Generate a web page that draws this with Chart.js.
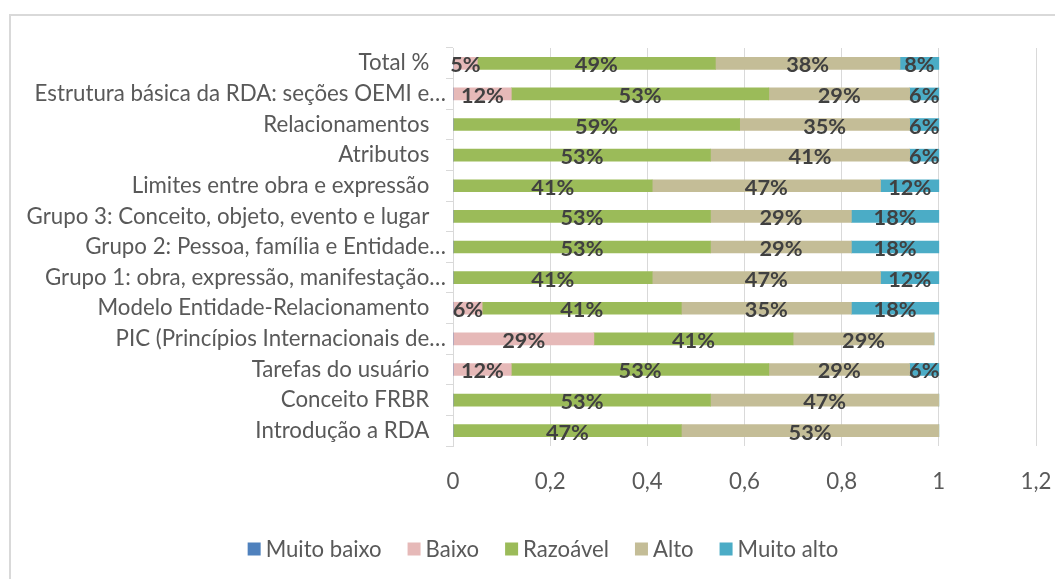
<!DOCTYPE html>
<html><head><meta charset="utf-8">
<script src="https://cdn.jsdelivr.net/npm/chart.js@4.4.1/dist/chart.umd.min.js"></script>
<style>
html,body{margin:0;padding:0;background:#fff;}
#wrap{position:relative;width:1055px;height:579px;overflow:hidden;background:#fff;}
#frame{position:absolute;left:9px;top:14px;width:1200px;height:700px;border-left:2px solid #d9d9d9;border-top:2px solid #d9d9d9;}
canvas{position:absolute;left:0;top:0;}
</style></head><body>
<div id="wrap"><div id="frame"></div><canvas id="c" width="1055" height="579"></canvas></div>
<script>
const categories = [
  "Total %",
  "Estrutura básica da RDA: seções OEMI e…",
  "Relacionamentos",
  "Atributos",
  "Limites entre obra e expressão",
  "Grupo 3: Conceito, objeto, evento e lugar",
  "Grupo 2: Pessoa, família e Entidade…",
  "Grupo 1: obra, expressão, manifestação…",
  "Modelo Entidade-Relacionamento",
  "PIC (Princípios Internacionais de…",
  "Tarefas do usuário",
  "Conceito FRBR",
  "Introdução a RDA"
];
const seriesNames = ["Muito baixo", "Baixo", "Razoável", "Alto", "Muito alto"];
const muitoBaixo = [0, 0, 0, 0, 0, 0, 0, 0, 0, 0, 0, 0, 0];
const baixo      = [0.05, 0.12, 0, 0, 0, 0, 0, 0, 0.06, 0.29, 0.12, 0, 0];
const razoavel   = [0.49, 0.53, 0.59, 0.53, 0.41, 0.53, 0.53, 0.41, 0.41, 0.41, 0.53, 0.53, 0.47];
const alto       = [0.38, 0.29, 0.35, 0.41, 0.47, 0.29, 0.29, 0.47, 0.35, 0.29, 0.29, 0.47, 0.53];
const muitoAlto  = [0.08, 0.06, 0.06, 0.06, 0.12, 0.18, 0.18, 0.12, 0.18, 0, 0.06, 0, 0];
const xTicks = [0, 0.2, 0.4, 0.6, 0.8, 1, 1.2];
const colors = ["#4f81bd", "#e6b9b8", "#9bbb59", "#c4bd97", "#4bacc6"];

const FAMILY = "Lato, 'Open Sans', sans-serif";
function fitSize(text, target, weight){
  const ctx = document.createElement('canvas').getContext('2d');
  ctx.font = weight + " 100px " + FAMILY;
  return 100 * target / ctx.measureText(text).width;
}
const axisSize = fitSize("Grupo 3: Conceito, objeto, evento e lugar", 403, "normal");
const legendSize = fitSize("Muito baixo", 116, "normal");
const dlSize = fitSize("49%", 43, "bold");

const allSeries = [muitoBaixo, baixo, razoavel, alto, muitoAlto];

const labelPlugin = {
  id: 'barLabels',
  afterDatasetsDraw(chart){
    const ctx = chart.ctx;
    ctx.save();
    ctx.font = "bold " + dlSize + "px " + FAMILY;
    ctx.fillStyle = '#404040';
    ctx.textAlign = 'center';
    ctx.textBaseline = 'middle';
    chart.data.datasets.forEach((ds, i) => {
      const meta = chart.getDatasetMeta(i);
      meta.data.forEach((bar, j) => {
        const v = ds.data[j];
        if (!v) return;
        ctx.fillText(Math.round(v * 100) + '%', (bar.x + bar.base) / 2, bar.y + 2);
      });
    });
    ctx.restore();
  }
};

const legendPlugin = {
  id: 'customLegend',
  afterDraw(chart){
    const ctx = chart.ctx;
    ctx.save();
    ctx.font = legendSize + "px " + FAMILY;
    ctx.textBaseline = 'middle';
    ctx.textAlign = 'left';
    const box = 13, gap = 5, itemGap = 26;
    const ds = chart.data.datasets;
    let total = 0;
    ds.forEach((d, i) => { total += box + gap + ctx.measureText(d.label).width + (i < ds.length - 1 ? itemGap : 0); });
    let x = 543 - total / 2;
    const y = 549;
    ds.forEach(d => {
      ctx.fillStyle = d.backgroundColor;
      ctx.fillRect(x, y - box / 2, box, box);
      x += box + gap;
      ctx.fillStyle = '#595959';
      ctx.fillText(d.label, x, y + 1);
      x += ctx.measureText(d.label).width + itemGap;
    });
    ctx.restore();
  }
};

new Chart(document.getElementById('c'), {
  type: 'bar',
  data: {
    labels: categories,
    datasets: seriesNames.map((n, i) => ({
      label: n,
      data: allSeries[i],
      backgroundColor: colors[i],
      borderWidth: 0,
      barThickness: 12
    }))
  },
  options: {
    indexAxis: 'y',
    responsive: false,
    animation: false,
    layout: { padding: { left: 0, right: 0, top: 48, bottom: 73 } },
    plugins: { legend: { display: false }, tooltip: { enabled: false } },
    scales: {
      x: {
        stacked: true,
        min: 0, max: 1.2,
        afterBuildTicks(s){ s.ticks = xTicks.map(v => ({ value: v })); },
        afterFit(s){ s.height = 60; s.paddingRight = 19; s.paddingLeft = 0; },
        grid: { color: '#d9d9d9', drawTicks: false, lineWidth: 1 },
        border: { display: false },
        ticks: {
          color: '#595959',
          padding: 22,
          font: { family: FAMILY, size: axisSize },
          callback: v => (Math.round(v * 10) / 10).toString().replace('.', ',')
        }
      },
      y: {
        stacked: true,
        afterFit(s){ s.width = 453; },
        grid: { drawOnChartArea: false, drawTicks: true, tickLength: 7, color: '#d9d9d9', offset: true },
        border: { display: true, color: '#d9d9d9', width: 1 },
        ticks: {
          color: '#595959',
          padding: 0,
          autoSkip: false,
          font: { family: FAMILY, size: axisSize },
          callback: (v, i) => { const l = categories[i]; return l.endsWith('…') ? l : l + '\u2003'; }
        }
      }
    }
  },
  plugins: [labelPlugin, legendPlugin]
});
</script>
</body></html>
